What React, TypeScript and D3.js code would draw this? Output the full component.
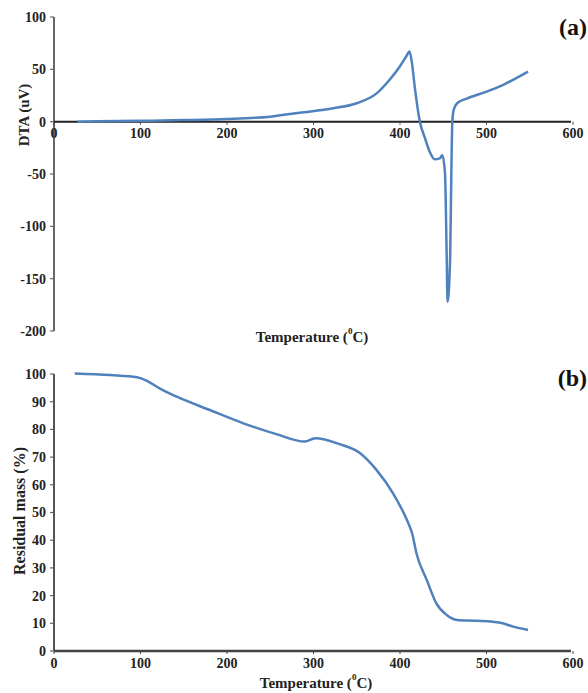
import React from "react";
import * as d3 from "d3";

const dtaTemp = [27, 50, 100, 150, 200, 250, 284, 323, 350, 373, 388, 400, 407, 411, 414, 417, 423, 429, 435, 440, 446, 449, 452, 454, 455, 458, 459.5, 460.5, 462, 466, 477, 500, 520, 548];
const dtaVal = [0, 0.3, 0.8, 1.5, 2.5, 4.8, 8.5, 12.8, 17.6, 27, 40, 53, 62, 67, 55, 33.5, 0, -16, -30, -36, -35, -32, -49, -129, -172, -129, -40, 0, 11, 17.6, 22, 28.7, 35.5, 47.8];

const massTemp = [24, 65, 96, 107, 122, 142, 180, 219, 257, 290, 302, 330, 354, 373, 392, 408, 414, 419, 431, 442, 454, 466, 489, 516, 531, 548];
const massVal = [100.2, 99.6, 98.8, 97.6, 94.8, 91.8, 87, 82.2, 78.3, 75.6, 76.8, 74.7, 71.4, 65.3, 56.9, 47.3, 42.5, 35.3, 25.6, 17.2, 13, 11.2, 10.9, 10.2, 8.8, 7.6];

const xTicks = [0, 100, 200, 300, 400, 500, 600];
const dtaTicks = [100, 50, 0, -50, -100, -150, -200];
const massTicks = [0, 10, 20, 30, 40, 50, 60, 70, 80, 90, 100];

const FONT = "'Liberation Serif', 'DejaVu Serif', serif";
const LINE = "#4f81bd";

function TempLabel({ x, y, size }: { x: number; y: number; size: number }) {
  return (
    <text x={x} y={y} textAnchor="middle" fontFamily={FONT} fontWeight={700} fontSize={size} fill="#222">
      Temperature (<tspan fontSize={9} dy={-8}>0</tspan>
      <tspan dy={8}>C)</tspan>
    </text>
  );
}

export default function App() {
  const x = d3.scaleLinear().domain([0, 600]).range([54, 573]);
  const yTop = d3.scaleLinear().domain([-200, 100]).range([331, 17]);
  const yBot = d3.scaleLinear().domain([0, 100]).range([651, 374]);

  const lineTop = d3
    .line<number>()
    .x((_, i) => x(dtaTemp[i]))
    .y((d) => yTop(d))
    .curve(d3.curveMonotoneX);
  const lineBot = d3
    .line<number>()
    .x((_, i) => x(massTemp[i]))
    .y((d) => yBot(d))
    .curve(d3.curveMonotoneX);

  const tickStyle = { fontFamily: FONT, fontWeight: 700, fontSize: 14, fill: "#222" } as const;

  return (
    <svg width={588} height={693} style={{ position: "absolute", left: 0, top: 0, background: "#fff" }}>
      {/* ---------- (a) DTA ---------- */}
      <g>
        {dtaTicks.map((t) => (
          <g key={"yt" + t}>
            <line x1={50} x2={54} y1={yTop(t)} y2={yTop(t)} stroke="#666" strokeWidth={1.2} />
            <text x={46} y={yTop(t)} dy="0.35em" textAnchor="end" {...tickStyle}>
              {t}
            </text>
          </g>
        ))}
        <line x1={54} x2={54} y1={yTop(100)} y2={yTop(-200)} stroke="#666" strokeWidth={2} />
        <line x1={54} x2={x(600) - 2} y1={yTop(0)} y2={yTop(0)} stroke="#222" strokeWidth={2} />
        {xTicks.map((t) => (
          <g key={"xt" + t}>
            <line x1={x(t)} x2={x(t)} y1={yTop(0)} y2={yTop(0) + 3} stroke="#444" strokeWidth={1} />
            <text x={x(t)} y={yTop(0) + 16} textAnchor="middle" {...tickStyle}>
              {t}
            </text>
          </g>
        ))}
        <path d={lineTop(dtaVal) || ""} fill="none" stroke={LINE} strokeWidth={2.5} strokeLinejoin="round" />
        <text
          transform={`translate(29,${115}) rotate(-90)`}
          textAnchor="middle"
          fontFamily={FONT}
          fontWeight={700}
          fontSize={15}
          fill="#222"
        >
          DTA (uV)
        </text>
        <TempLabel x={312} y={342} size={15} />
        <text x={587} y={35} textAnchor="end" fontFamily={FONT} fontWeight={700} fontSize={24} fill="#111">
          (a)
        </text>
      </g>

      {/* ---------- (b) TGA ---------- */}
      <g>
        {massTicks.map((t) => (
          <g key={"myt" + t}>
            <line x1={50} x2={54} y1={yBot(t)} y2={yBot(t)} stroke="#666" strokeWidth={1.2} />
            <text x={46} y={yBot(t)} dy="0.35em" textAnchor="end" {...tickStyle}>
              {t}
            </text>
          </g>
        ))}
        <line x1={54} x2={54} y1={yBot(100)} y2={yBot(0)} stroke="#555" strokeWidth={2} />
        <line x1={54} x2={x(600) - 2} y1={yBot(0)} y2={yBot(0)} stroke="#444" strokeWidth={2.5} />
        {xTicks.map((t) => (
          <g key={"mxt" + t}>
            <line x1={x(t)} x2={x(t)} y1={yBot(0)} y2={yBot(0) + 3} stroke="#444" strokeWidth={1} />
            <text x={x(t)} y={yBot(0) + 17} textAnchor="middle" {...tickStyle}>
              {t}
            </text>
          </g>
        ))}
        <path d={lineBot(massVal) || ""} fill="none" stroke={LINE} strokeWidth={2.5} strokeLinejoin="round" />
        <text
          transform={`translate(25,${511}) rotate(-90)`}
          textAnchor="middle"
          fontFamily={FONT}
          fontWeight={700}
          fontSize={16}
          fill="#222"
        >
          Residual mass (%)
        </text>
        <TempLabel x={316} y={688} size={15} />
        <text x={587} y={386} textAnchor="end" fontFamily={FONT} fontWeight={700} fontSize={24} fill="#111">
          (b)
        </text>
      </g>
    </svg>
  );
}
